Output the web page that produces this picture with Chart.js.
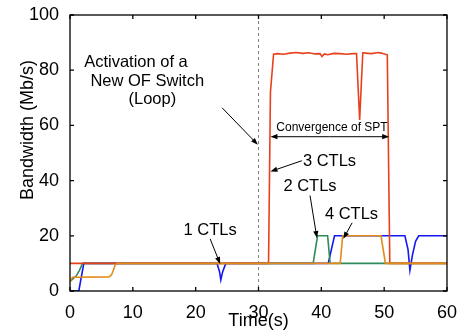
<!DOCTYPE html>
<html>
<head>
<meta charset="utf-8">
<script src="https://cdn.jsdelivr.net/npm/chart.js@4.4.1/dist/chart.umd.min.js"></script>
<style>
  html, body { margin: 0; padding: 0; background: #fff; }
</style>
</head>
<body>
<canvas id="myChart" width="460" height="330"></canvas>
<script>
// axis ticks
const timeTicks = [0, 10, 20, 30, 40, 50, 60];
const bwTicks = [0, 20, 40, 60, 80, 100];

// 1 CTLs (blue)
const blueTime = [0, 1.4, 2.2, 23.4, 23.8, 24.0, 24.3, 24.8, 41.1, 42.1, 53.3, 53.8, 54.1, 54.5, 55.0, 55.5, 60];
const blueBw   = [0, 0, 10, 10, 7, 4, 7, 10, 10, 20, 20, 15, 7.5, 13, 18, 20, 20];
// 2 CTLs (green)
const greenTime = [0, 0.5, 1.0, 1.5, 2.0, 38.7, 39.4, 41.0, 41.4, 60];
const greenBw   = [3.5, 4.5, 5.5, 7.5, 10, 10, 20, 20, 10, 10];
// 3 CTLs (red)
const redTime = [0, 31.6, 31.9, 32.4, 33, 34, 35, 36, 37, 38, 39, 39.8, 40.1, 40.5, 41, 42, 43, 44, 45, 45.6, 46.1, 46.6, 47, 48, 49, 49.5, 50.5, 50.9, 60];
const redBw   = [10, 10, 72, 85.8, 86, 85.8, 86.2, 86.4, 86.1, 86.3, 85.9, 86, 85, 85.9, 85.6, 86.1, 86, 85.8, 86, 86, 62, 86.3, 86.2, 86, 86.4, 86.2, 85.6, 10, 10];
// 4 CTLs (orange)
const orangeTime = [0, 0.4, 1, 6.2, 6.6, 6.9, 7.2, 7.5, 43.0, 43.4, 49.5, 50.2, 60];
const orangeBw   = [3.3, 5, 5, 5.1, 5.8, 7.5, 9.5, 10, 10, 20, 20, 10, 10];

const FONT = '"Liberation Sans", Arial, Helvetica, sans-serif';

function pts(t, v) {
    return t.map((x, i) => ({ x: x, y: v[i] }));
}

// annotations, in data units
const labels = [
    { text: 'Activation of a', x: 10.5, y: 82.9, size: 16.5 },
    { text: 'New OF Switch', x: 12.3, y: 76.1, size: 16.5 },
    { text: '(Loop)', x: 13.1, y: 69.3, size: 16.5 },
    { text: 'Convergence of SPT', x: 41.7, y: 59.1, size: 12 },
    { text: '3 CTLs', x: 41.3, y: 46.8, size: 16.5 },
    { text: '2 CTLs', x: 38.2, y: 37.9, size: 16.5 },
    { text: '4 CTLs', x: 44.8, y: 27.7, size: 16.5 },
    { text: '1 CTLs', x: 22.3, y: 22.0, size: 16.5 }
];
const arrows = [
    { from: [24.2, 66.4], to: [29.9, 53.0] },
    { from: [36.9, 47.2], to: [31.9, 43.3] },
    { from: [38.2, 34.6], to: [39.3, 19.2] },
    { from: [44.9, 24.7], to: [43.5, 18.9] },
    { from: [22.3, 18.9], to: [23.9, 9.8] },
    { from: [41.3, 55.9], to: [31.9, 55.9] },
    { from: [41.3, 55.9], to: [50.8, 55.9] }
];

function drawArrow(ctx, x1, y1, x2, y2) {
    const ang = Math.atan2(y2 - y1, x2 - x1);
    const len = 7, half = 2.6;
    ctx.beginPath();
    ctx.moveTo(x1, y1);
    ctx.lineTo(x2 - Math.cos(ang) * len * 0.6, y2 - Math.sin(ang) * len * 0.6);
    ctx.stroke();
    ctx.beginPath();
    ctx.moveTo(x2, y2);
    ctx.lineTo(x2 - Math.cos(ang) * len - Math.sin(ang) * half, y2 - Math.sin(ang) * len + Math.cos(ang) * half);
    ctx.lineTo(x2 - Math.cos(ang) * len + Math.sin(ang) * half, y2 - Math.sin(ang) * len - Math.cos(ang) * half);
    ctx.closePath();
    ctx.fill();
}

const framePlugin = {
    id: 'frame',
    beforeDatasetsDraw(chart) {
        const ctx = chart.ctx;
        const xs = chart.scales.x, ys = chart.scales.y;
        // dashed activation line at 30 s
        ctx.save();
        ctx.strokeStyle = '#808080';
        ctx.lineWidth = 1;
        ctx.setLineDash([3, 3]);
        ctx.beginPath();
        ctx.moveTo(Math.round(xs.getPixelForValue(30)) + 0.5, ys.getPixelForValue(100));
        ctx.lineTo(Math.round(xs.getPixelForValue(30)) + 0.5, ys.getPixelForValue(0));
        ctx.stroke();
        ctx.restore();
    },
    afterDatasetsDraw(chart) {
        const ctx = chart.ctx;
        const a = chart.chartArea;
        const xs = chart.scales.x, ys = chart.scales.y;
        ctx.save();
        ctx.strokeStyle = '#000';
        ctx.lineWidth = 1.3;
        ctx.strokeRect(a.left, a.top, a.right - a.left, a.bottom - a.top);
        // inward ticks on all sides
        ctx.beginPath();
        timeTicks.forEach(t => {
            const px = xs.getPixelForValue(t);
            ctx.moveTo(px, a.bottom); ctx.lineTo(px, a.bottom - 4);
            ctx.moveTo(px, a.top); ctx.lineTo(px, a.top + 4);
        });
        bwTicks.forEach(v => {
            const py = ys.getPixelForValue(v);
            ctx.moveTo(a.left, py); ctx.lineTo(a.left + 4, py);
            ctx.moveTo(a.right, py); ctx.lineTo(a.right - 4, py);
        });
        ctx.stroke();

        // texts
        ctx.fillStyle = '#000';
        ctx.textAlign = 'center';
        ctx.textBaseline = 'middle';
        labels.forEach(l => {
            ctx.font = l.size + 'px ' + FONT;
            ctx.fillText(l.text, xs.getPixelForValue(l.x), ys.getPixelForValue(l.y));
        });
        ctx.lineWidth = 1;
        arrows.forEach(ar => {
            drawArrow(ctx,
                xs.getPixelForValue(ar.from[0]), ys.getPixelForValue(ar.from[1]),
                xs.getPixelForValue(ar.to[0]), ys.getPixelForValue(ar.to[1]));
        });

        // axis titles
        ctx.font = '18px ' + FONT;
        ctx.textBaseline = 'alphabetic';
        ctx.fillText('Time(s)', (a.left + a.right) / 2, 326);
        ctx.translate(33, 200);
        ctx.rotate(-Math.PI / 2);
        ctx.textAlign = 'left';
        ctx.fillText('Bandwidth (Mb/s)', 0, 0);
        ctx.restore();
    }
};

const ctx = document.getElementById('myChart').getContext('2d');

const config = {
    type: 'line',
    data: {
        datasets: [
            { label: '4 CTLs', data: pts(orangeTime, orangeBw), borderColor: '#e38a1a', order: 0 },
            { label: '3 CTLs', data: pts(redTime, redBw), borderColor: '#e8401c', order: 1 },
            { label: '2 CTLs', data: pts(greenTime, greenBw), borderColor: '#2f8a5c', order: 2 },
            { label: '1 CTLs', data: pts(blueTime, blueBw), borderColor: '#1418f2', order: 3 }
        ]
    },
    options: {
        responsive: false,
        animation: false,
        devicePixelRatio: 1,
        elements: {
            line: { borderWidth: 1.6, tension: 0, fill: false },
            point: { radius: 0 }
        },
        layout: { padding: { top: 15, right: 13, left: 0, bottom: 0 } },
        plugins: {
            legend: { display: false },
            tooltip: { enabled: false }
        },
        scales: {
            x: {
                type: 'linear',
                min: timeTicks[0],
                max: timeTicks[timeTicks.length - 1],
                grid: { display: false },
                border: { display: false },
                ticks: {
                    stepSize: 10,
                    padding: 3,
                    maxRotation: 0,
                    color: '#000',
                    font: { family: FONT, size: 18 }
                },
                afterFit: s => { s.height = 39; }
            },
            y: {
                min: bwTicks[0],
                max: bwTicks[bwTicks.length - 1],
                grid: { display: false },
                border: { display: false },
                ticks: {
                    stepSize: 20,
                    padding: 3,
                    color: '#000',
                    font: { family: FONT, size: 18 }
                },
                afterFit: s => { s.width = 70; }
            }
        }
    },
    plugins: [framePlugin]
};

const chart = new Chart(ctx, config);
</script>
</body>
</html>
